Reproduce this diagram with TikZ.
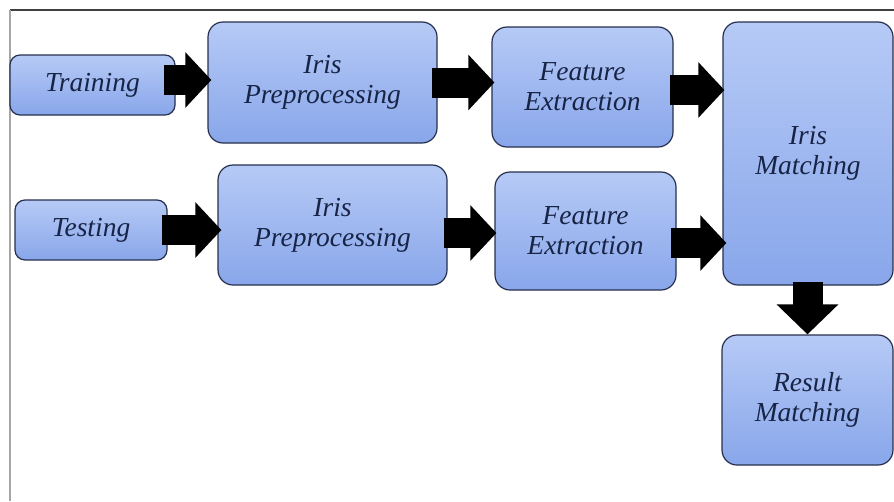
\documentclass[tikz,border=0pt]{standalone}
\usepackage{fontspec}
\setmainfont{Liberation Serif}
\usetikzlibrary{arrows.meta}
\definecolor{boxtop}{RGB}{182,202,246}
\definecolor{boxbot}{RGB}{136,166,234}
\definecolor{boxline}{RGB}{38,48,78}
\definecolor{txt}{RGB}{24,36,70}

\begin{document}
\begin{tikzpicture}[x=1pt,y=-1pt,>=latex,
  blk/.style={draw=boxline,line width=1.2pt,rounded corners=15pt,top color=boxtop,bottom color=boxbot,
    align=center,text=txt,font=\fontsize{27.5}{30}\selectfont\itshape,inner sep=0pt},
  small/.style={blk,rounded corners=10pt},
  flow/.style={line width=30pt,-{Triangle[length=26pt,width=54pt]}}]
\useasboundingbox (0,0) rectangle (894,501);
\draw[line width=2.5pt,black!75] (10,10)--(894,10);
\draw[line width=2.5pt,black!35] (10,10)--(10,501);
\node[small,minimum width=165pt,minimum height=60pt] (train) at (92.5,85) {Training};
\node[blk,minimum width=229pt,minimum height=121pt] (pre1) at (322.5,82.5) {Iris\\Preprocessing};
\node[blk,minimum width=181pt,minimum height=120pt] (fe1) at (582.5,87) {Feature\\Extraction};
\node[blk,minimum width=170pt,minimum height=263pt] (im) at (808,153.5) {Iris\\Matching};
\node[small,minimum width=152pt,minimum height=60pt] (test) at (91,230) {Testing};
\node[blk,minimum width=229pt,minimum height=120pt] (pre2) at (332.5,225) {Iris\\Preprocessing};
\node[blk,minimum width=181pt,minimum height=118pt] (fe2) at (585.5,231) {Feature\\Extraction};
\node[blk,minimum width=171pt,minimum height=130pt] (res) at (807.5,400) {Result\\Matching};
\draw[flow] ([xshift=-12pt,yshift=5pt]train.east)--([xshift=4pt,yshift=5pt]train.east -| pre1.west);
\draw[flow] ([xshift=-6pt]pre1.east)--([xshift=3pt]pre1.east -| fe1.west);
\draw[flow] ([xshift=-4pt,yshift=-3pt]fe1.east)--([xshift=2pt,yshift=-3pt]fe1.east -| im.west);
\draw[flow] ([xshift=-6pt]test.east)--([xshift=4pt]test.east -| pre2.west);
\draw[flow] ([xshift=-4pt,yshift=-8pt]pre2.east)--([xshift=2pt,yshift=-8pt]pre2.east -| fe2.west);
\draw[flow] ([xshift=-6pt,yshift=-12pt]fe2.east)--([xshift=4pt,yshift=-12pt]fe2.east -| im.west);
\draw[flow,-{Triangle[length=30pt,width=60pt]}] ([yshift=4pt]res.north |- im.south)--(res.north);
\end{tikzpicture}
\end{document}
